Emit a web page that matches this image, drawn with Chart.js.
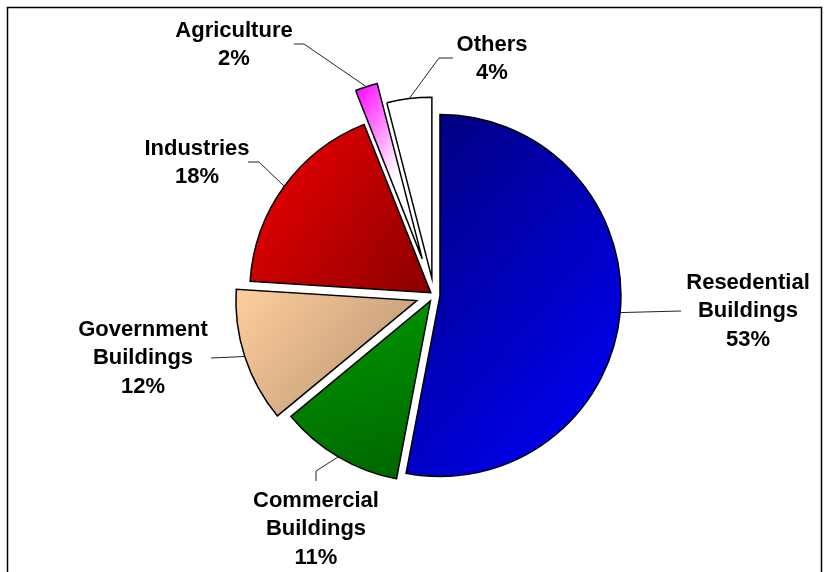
<!DOCTYPE html>
<html>
<head>
<meta charset="utf-8">
<script src="https://cdn.jsdelivr.net/npm/chart.js@4/dist/chart.umd.min.js"></script>
<style>
  html, body { margin: 0; padding: 0; background: #fff; }
  #wrap { position: relative; width: 830px; height: 572px; }
</style>
</head>
<body>
<div id="wrap"><canvas id="sector-pie"></canvas></div>
<script>
// Sectors, clockwise from 12 o'clock
const sectors = [
  ['Resedential', 'Buildings'],
  ['Commercial', 'Buildings'],
  ['Government', 'Buildings'],
  ['Industries'],
  ['Agriculture'],
  ['Others']
];
const shares = [53, 11, 12, 18, 2, 4];

// how far each slice is pulled away from the centre (px)
const explode = [6, 7, 18, 4, 38, 17];

// [start colour, end colour, where the end colour is reached, gradient angle in degrees]
const fills = [
  ['#00007a', '#0000ff', 1, 40],
  ['#009a00', '#006400', 1, 75],
  ['#ffcf9c', '#b39070', 1, 40],
  ['#f40000', '#8a0000', 1, 35],
  ['#ff00ff', '#ffffff', 0.55, 35],
  ['#ffffff', '#ffffff', 1, 0]
];

// label text position (centre x, first baseline) and the elbow of its leader line
const labelSpots = [
  { x: 748, y: 289, leader: [[681, 311]] },
  { x: 316, y: 507, leader: [[316, 471], [316, 481]] },
  { x: 143, y: 336, leader: [[211, 358]] },
  { x: 197, y: 155, leader: [[259, 162], [248, 162]] },
  { x: 234, y: 37, leader: [[304, 44], [294, 44]] },
  { x: 492, y: 51, leader: [[439, 58], [453, 58]] }
];
const lineStep = 28.4;
const PIE_RADIUS = 181;

// where slice i sits once pulled out: centre, start/end angle
function sliceGeometry(chart, i) {
  const area = chart.chartArea;
  const total = shares.reduce((a, b) => a + b, 0);
  let start = -Math.PI / 2;
  for (let k = 0; k < i; k++) start += shares[k] / total * Math.PI * 2;
  const end = start + shares[i] / total * Math.PI * 2;
  const mid = (start + end) / 2;
  return {
    x: (area.left + area.right) / 2 + Math.cos(mid) * explode[i],
    y: (area.top + area.bottom) / 2 + Math.sin(mid) * explode[i],
    start, end
  };
}

function sliceFill(context) {
  const i = context.dataIndex;
  const [c0, c1, stop, deg] = fills[i];
  const chart = context.chart;
  if (!chart.chartArea) return c0;
  const g = sliceGeometry(chart, i);
  // bounding box of the wedge
  let minX = g.x, maxX = g.x, minY = g.y, maxY = g.y;
  for (let s = 0; s <= 24; s++) {
    const a = g.start + (g.end - g.start) * s / 24;
    const px = g.x + Math.cos(a) * PIE_RADIUS;
    const py = g.y + Math.sin(a) * PIE_RADIUS;
    minX = Math.min(minX, px); maxX = Math.max(maxX, px);
    minY = Math.min(minY, py); maxY = Math.max(maxY, py);
  }
  const dx = Math.cos(deg * Math.PI / 180);
  const dy = Math.sin(deg * Math.PI / 180);
  const mx = (minX + maxX) / 2, my = (minY + maxY) / 2;
  const half = Math.abs(dx) * (maxX - minX) / 2 + Math.abs(dy) * (maxY - minY) / 2;
  const grad = chart.ctx.createLinearGradient(mx - dx * half, my - dy * half, mx + dx * half, my + dy * half);
  grad.addColorStop(0, c0);
  grad.addColorStop(stop, c1);
  grad.addColorStop(1, c1);
  return grad;
}

// push slices outward along their middle angle
const explodePlugin = {
  id: 'explode',
  afterDatasetUpdate(chart, args) {
    args.meta.data.forEach((arc, i) => {
      const mid = (arc.startAngle + arc.endAngle) / 2;
      arc.x += Math.cos(mid) * explode[i];
      arc.y += Math.sin(mid) * explode[i];
    });
  }
};

// data labels with leader lines + outer frame
const labelPlugin = {
  id: 'sliceLabels',
  afterDraw(chart) {
    const ctx = chart.ctx;
    const arcs = chart.getDatasetMeta(0).data;
    ctx.save();

    ctx.strokeStyle = '#000';
    ctx.lineWidth = 1.5;
    ctx.strokeRect(7.5, 7.5, 814, 620);

    ctx.lineWidth = 1;
    ctx.strokeStyle = '#222';
    arcs.forEach((arc, i) => {
      const mid = (arc.startAngle + arc.endAngle) / 2;
      const ax = arc.x + Math.cos(mid) * arc.outerRadius;
      const ay = arc.y + Math.sin(mid) * arc.outerRadius;
      ctx.beginPath();
      ctx.moveTo(ax, ay);
      labelSpots[i].leader.forEach(p => ctx.lineTo(p[0], p[1]));
      ctx.stroke();
    });

    ctx.fillStyle = '#000';
    ctx.font = 'bold 22px "Liberation Sans", Arial, sans-serif';
    ctx.textAlign = 'center';
    ctx.textBaseline = 'alphabetic';
    sectors.forEach((name, i) => {
      const lines = name.concat([shares[i] + '%']);
      const spot = labelSpots[i];
      lines.forEach((t, k) => ctx.fillText(t, spot.x, spot.y + k * lineStep));
    });
    ctx.restore();
  }
};

new Chart(document.getElementById('sector-pie'), {
  type: 'pie',
  data: {
    labels: sectors,
    datasets: [{
      data: shares,
      backgroundColor: sliceFill,
      borderColor: '#000',
      borderWidth: 1.5,
      borderJoinStyle: 'miter'
    }]
  },
  options: {
    responsive: true,
    maintainAspectRatio: false,
    animation: false,
    radius: PIE_RADIUS,
    layout: { padding: { left: 38, top: 18, right: 0, bottom: 0 } },
    plugins: {
      legend: { display: false },
      tooltip: { enabled: false }
    }
  },
  plugins: [explodePlugin, labelPlugin]
});
</script>
</body>
</html>
